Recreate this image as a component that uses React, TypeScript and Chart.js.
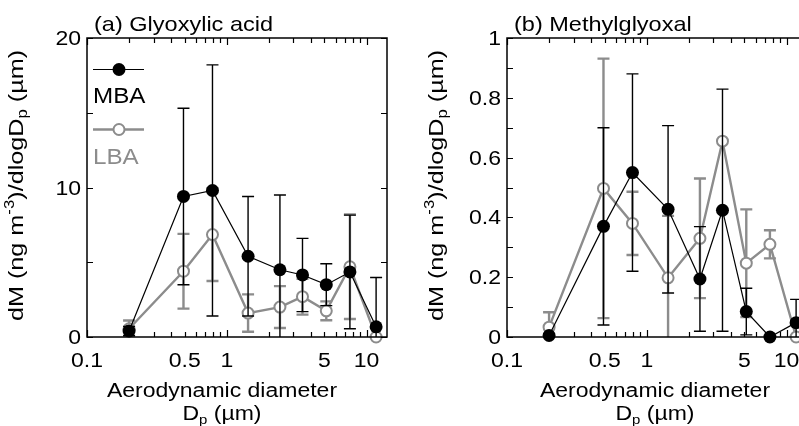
import React, { useEffect, useRef } from "react";
import { Chart, registerables } from "chart.js";
Chart.register(...registerables);

// ---- data ----
const sizeDp = [0.2, 0.49, 0.79, 1.42, 2.4, 3.48, 5.15, 7.6, 11.7];

const glyMBA = [0.4, 9.4, 9.8, 5.4, 4.5, 4.15, 3.5, 4.35, 0.68];
const glyMBAErr = [0.3, 5.9, 8.4, 4.0, 5.0, 2.45, 1.4, 3.8, 3.3];
const glyLBA = [0.55, 4.4, 6.85, 1.6, 2.0, 2.7, 1.75, 4.7, 0];
const glyLBAErr = [0.55, 2.5, 3.1, 1.25, 1.4, 1.2, 0.63, 3.5, 0];

const mgMBA = [0.005, 0.37, 0.55, 0.427, 0.194, 0.424, 0.085, 0, 0.048];
const mgMBAErr = [0.005, 0.33, 0.33, 0.28, 0.175, 0.405, 0.078, 0, 0.078];
const mgLBA = [0.033, 0.497, 0.38, 0.198, 0.33, 0.655, 0.247, 0.31, 0];
const mgLBAErr = [0.05, 0.434, 0.106, 0.207, 0.2, 0, 0.18, 0.047, 0];

const xTickLabels = [0.1, 0.5, 1, 5, 10];
const xMajorTicks = [0.1, 1, 10];
const xMinorTicks = [0.2, 0.3, 0.4, 0.5, 0.6, 0.7, 0.8, 0.9, 2, 3, 4, 5, 6, 7, 8, 9];

const glyYTicks = [0, 10, 20];
const glyYMinor = [5, 15];
const mgYTicks = [0, 0.2, 0.4, 0.6, 0.8, 1];
const mgYMinor = [0.1, 0.3, 0.5, 0.7, 0.9];

const seriesNames = ["MBA", "LBA"];
const GRAY = "#8c8c8c";
const FONT = '"Liberation Sans", Arial, sans-serif';

type Run = { t: string; s: number; dy?: number };

function drawRuns(ctx: CanvasRenderingContext2D, runs: Run[], x: number, y: number, align: string, sx: number) {
  const widths = runs.map((r) => {
    ctx.font = `${r.s}px ${FONT}`;
    return ctx.measureText(r.t).width;
  });
  const total = widths.reduce((a, b) => a + b, 0) * sx;
  const start = align === "center" ? x - total / 2 : align === "right" ? x - total : x;
  ctx.save();
  ctx.translate(start, y);
  ctx.scale(sx, 1);
  ctx.textAlign = "left";
  ctx.textBaseline = "alphabetic";
  let cx = 0;
  runs.forEach((r, i) => {
    ctx.font = `${r.s}px ${FONT}`;
    ctx.fillText(r.t, cx, r.dy || 0);
    cx += widths[i];
  });
  ctx.restore();
}

type PanelProps = {
  title: string;
  yMax: number;
  yTicks: number[];
  yMinor: number[];
  mba: number[];
  mbaErr: number[];
  lba: number[];
  lbaErr: number[];
  showLegend: boolean;
  xTitleX: number;
  fmt: (v: number) => string;
};

function Panel(p: PanelProps) {
  const ref = useRef<HTMLCanvasElement | null>(null);
  useEffect(() => {
    const canvas = ref.current!;
    const errs = [p.mbaErr, p.lbaErr];
    const vals = [p.mba, p.lba];
    const errColors = ["#000", GRAY];
    const errWidths = [1.4, 2.4];

    const plugin = {
      id: "panelDecor",
      beforeDatasetDraw(chart: any, args: any) {
        const i = args.index;
        const { ctx, chartArea: a } = chart;
        const xs = chart.scales.x;
        const ys = chart.scales.y;
        ctx.save();
        ctx.beginPath();
        ctx.rect(a.left, a.top, a.right - a.left, a.bottom - a.top);
        ctx.clip();
        ctx.strokeStyle = errColors[i];
        ctx.lineWidth = errWidths[i];
        sizeDp.forEach((d, k) => {
          const e = errs[i][k];
          if (!e) return;
          const px = xs.getPixelForValue(d);
          const yt = ys.getPixelForValue(vals[i][k] + e);
          const yb = ys.getPixelForValue(vals[i][k] - e);
          ctx.beginPath();
          ctx.moveTo(px, yt);
          ctx.lineTo(px, yb);
          ctx.moveTo(px - 6, yt);
          ctx.lineTo(px + 6, yt);
          ctx.moveTo(px - 6, yb);
          ctx.lineTo(px + 6, yb);
          ctx.stroke();
        });
        ctx.restore();
      },
      afterDraw(chart: any) {
        const { ctx, chartArea: a } = chart;
        const xs = chart.scales.x;
        const ys = chart.scales.y;
        ctx.save();
        ctx.strokeStyle = "#000";
        ctx.lineWidth = 1.5;
        ctx.strokeRect(a.left, a.top, a.right - a.left, a.bottom - a.top);
        ctx.lineWidth = 1.2;
        ctx.beginPath();
        const xt = (v: number, len: number) => {
          const px = Math.round(xs.getPixelForValue(v)) + 0.5;
          ctx.moveTo(px, a.bottom);
          ctx.lineTo(px, a.bottom - len);
          ctx.moveTo(px, a.top);
          ctx.lineTo(px, a.top + len);
        };
        xMajorTicks.forEach((v) => xt(v, 7));
        xMinorTicks.forEach((v) => xt(v, 5));
        const yt = (v: number, len: number) => {
          const py = Math.round(ys.getPixelForValue(v)) + 0.5;
          ctx.moveTo(a.left, py);
          ctx.lineTo(a.left + len, py);
          ctx.moveTo(a.right, py);
          ctx.lineTo(a.right - len, py);
        };
        p.yTicks.forEach((v) => yt(v, 6));
        p.yMinor.forEach((v) => yt(v, 6));
        ctx.stroke();

        ctx.fillStyle = "#000";
        xTickLabels.forEach((v) => {
          drawRuns(ctx, [{ t: String(v), s: 20 }], xs.getPixelForValue(v), 367, "center", 1.15);
        });
        p.yTicks.forEach((v) => {
          drawRuns(ctx, [{ t: p.fmt(v), s: 20 }], a.left - 6, ys.getPixelForValue(v) + 7, "right", 1.15);
        });

        // panel title
        drawRuns(ctx, [{ t: p.title, s: 21 }], a.left + 7, 31, "left", 1.12);

        // x title
        drawRuns(ctx, [{ t: "Aerodynamic diameter", s: 20 }], p.xTitleX, 397, "center", 1.15);
        drawRuns(
          ctx,
          [
            { t: "D", s: 20 },
            { t: "p", s: 13, dy: 4 },
            { t: " (µm)", s: 20 },
          ],
          p.xTitleX,
          420,
          "center",
          1.15
        );

        // y title
        ctx.save();
        ctx.translate(23, (a.top + a.bottom) / 2 - 2);
        ctx.rotate(-Math.PI / 2);
        drawRuns(
          ctx,
          [
            { t: "dM (ng m", s: 21 },
            { t: "-3", s: 14, dy: -9 },
            { t: ")/dlogD", s: 21 },
            { t: "p", s: 14, dy: 4 },
            { t: " (µm)", s: 21 },
          ],
          0,
          0,
          "center",
          1.2
        );
        ctx.restore();

        if (p.showLegend) {
          // MBA
          ctx.strokeStyle = "#000";
          ctx.lineWidth = 1.2;
          ctx.beginPath();
          ctx.moveTo(93, 69.5);
          ctx.lineTo(144, 69.5);
          ctx.stroke();
          ctx.fillStyle = "#000";
          ctx.beginPath();
          ctx.arc(119, 69.5, 6.5, 0, Math.PI * 2);
          ctx.fill();
          drawRuns(ctx, [{ t: seriesNames[0], s: 22 }], 93, 103, "left", 1.1);
          // LBA
          ctx.strokeStyle = GRAY;
          ctx.lineWidth = 2.4;
          ctx.beginPath();
          ctx.moveTo(93, 129.5);
          ctx.lineTo(144, 129.5);
          ctx.stroke();
          ctx.fillStyle = "#fff";
          ctx.lineWidth = 2;
          ctx.beginPath();
          ctx.arc(119, 129.5, 5.5, 0, Math.PI * 2);
          ctx.fill();
          ctx.stroke();
          ctx.fillStyle = GRAY;
          drawRuns(ctx, [{ t: seriesNames[1], s: 22 }], 93, 164, "left", 1.1);
        }
        ctx.restore();
      },
    };

    const chart = new Chart(canvas, {
      type: "line",
      data: {
        datasets: [
          {
            label: seriesNames[0],
            data: sizeDp.map((x, i) => ({ x, y: p.mba[i] })),
            borderColor: "#000",
            borderWidth: 1.2,
            pointRadius: 6.5,
            pointBackgroundColor: "#000",
            pointBorderColor: "#000",
            pointBorderWidth: 0,
            tension: 0,
            clip: false as any,
          },
          {
            label: seriesNames[1],
            data: sizeDp.map((x, i) => ({ x, y: p.lba[i] })),
            borderColor: GRAY,
            borderWidth: 2.4,
            pointRadius: 5.5,
            pointBackgroundColor: "#fff",
            pointBorderColor: GRAY,
            pointBorderWidth: 2,
            tension: 0,
            clip: false as any,
          },
        ],
      },
      options: {
        responsive: false,
        maintainAspectRatio: false,
        animation: false,
        devicePixelRatio: 1,
        layout: { padding: { left: 87, right: 13, top: 38, bottom: 89 } },
        scales: {
          x: { type: "logarithmic", min: 0.1, max: 14, display: false },
          y: { type: "linear", min: 0, max: p.yMax, display: false },
        },
        plugins: { legend: { display: false }, tooltip: { enabled: false } },
      },
      plugins: [plugin],
    } as any);
    return () => chart.destroy();
  }, []);
  return <canvas ref={ref} width={400} height={426} />;
}

export default function App() {
  return (
    <div
      style={{
        position: "fixed",
        left: 0,
        top: 0,
        width: 799,
        height: 426,
        overflow: "hidden",
        background: "#fff",
      }}
    >
      <div style={{ position: "absolute", left: 0, top: 0 }}>
        <Panel
          title="(a) Glyoxylic acid"
          yMax={20}
          yTicks={glyYTicks}
          yMinor={glyYMinor}
          mba={glyMBA}
          mbaErr={glyMBAErr}
          lba={glyLBA}
          lbaErr={glyLBAErr}
          showLegend={true}
          xTitleX={222}
          fmt={(v) => String(v)}
        />
      </div>
      <div style={{ position: "absolute", left: 420, top: 0 }}>
        <Panel
          title="(b) Methylglyoxal"
          yMax={1}
          yTicks={mgYTicks}
          yMinor={mgYMinor}
          mba={mgMBA}
          mbaErr={mgMBAErr}
          lba={mgLBA}
          lbaErr={mgLBAErr}
          showLegend={false}
          xTitleX={235}
          fmt={(v) => String(v)}
        />
      </div>
    </div>
  );
}
